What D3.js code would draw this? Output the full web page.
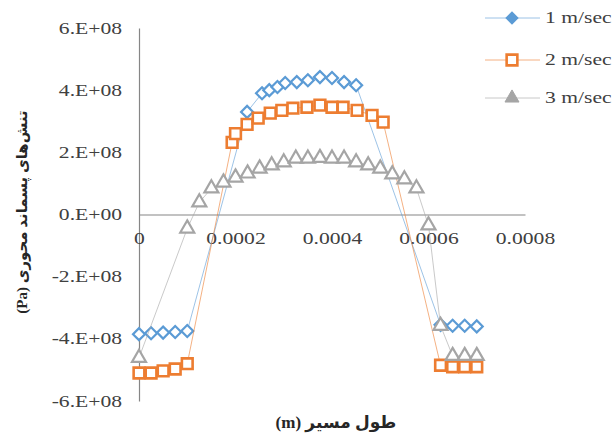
<!DOCTYPE html>
<html>
<head>
<meta charset="utf-8">
<script src="https://cdn.jsdelivr.net/npm/d3@7"></script>
<style>
  body { margin: 0; background: #fff; }
  svg { display: block; }
</style>
</head>
<body>
<svg id="chart" width="614" height="437"></svg>
<script>
// tick labels
const xTicks = [0, 0.0002, 0.0004, 0.0006, 0.0008];
const xTickLabels = ["0", "0.0002", "0.0004", "0.0006", "0.0008"];
const yTicks = [-6e8, -4e8, -2e8, 0, 2e8, 4e8, 6e8];
const yTickLabels = ["-6.E+08", "-4.E+08", "-2.E+08", "0.E+00", "2.E+08", "4.E+08", "6.E+08"];

const seriesNames = ["1 m/sec", "2 m/sec", "3 m/sec"];

// 1 m/sec  (x in 1e-4 m, stress in 1e8 Pa)
const x1 = [0, 0.25, 0.5, 0.75, 1.0, 2.24, 2.55, 2.7, 2.87, 3.03, 3.27, 3.5, 3.75, 4.0, 4.25, 4.5, 6.25, 6.5, 6.75, 7.0];
const y1 = [-3.85, -3.82, -3.8, -3.78, -3.75, 3.3, 3.9, 4.0, 4.1, 4.23, 4.26, 4.32, 4.42, 4.39, 4.26, 4.16, -3.55, -3.58, -3.58, -3.6];

// 2 m/sec
const x2 = [0, 0.25, 0.5, 0.75, 1.0, 1.93, 2.0, 2.24, 2.47, 2.72, 2.96, 3.19, 3.48, 3.75, 4.0, 4.23, 4.52, 4.83, 5.06, 6.25, 6.5, 6.75, 7.0];
const y2 = [-5.1, -5.1, -5.03, -4.97, -4.8, 2.32, 2.6, 2.9, 3.1, 3.26, 3.35, 3.42, 3.45, 3.52, 3.45, 3.45, 3.35, 3.19, 2.97, -4.85, -4.9, -4.9, -4.9];

// 3 m/sec
const x3 = [0, 1.0, 1.25, 1.5, 1.75, 2.0, 2.25, 2.5, 2.75, 3.0, 3.25, 3.5, 3.75, 4.0, 4.25, 4.5, 4.75, 5.0, 5.25, 5.5, 5.75, 6.0, 6.25, 6.5, 6.75, 7.0];
const y3 = [-4.61, -0.45, 0.39, 0.84, 1.03, 1.19, 1.32, 1.48, 1.58, 1.68, 1.8, 1.8, 1.82, 1.8, 1.8, 1.68, 1.58, 1.48, 1.29, 1.13, 0.84, -0.35, -3.58, -4.55, -4.55, -4.55];

const colors = ["#5B9BD5", "#ED7D31", "#A5A5A5"];
const shapes = ["diamond", "square", "triangle"];

const svg = d3.select("#chart");
const stretch = 1.35; // the original labels are drawn wide

const x = d3.scaleLinear().domain([0, 0.0008]).range([139, 525]);
const y = d3.scaleLinear().domain([-6e8, 6e8]).range([401, 28]);

svg.append("rect").attr("width", 614).attr("height", 437).attr("fill", "#fff");

// y axis
const yAxis = svg.append("g")
    .attr("transform", "translate(" + x(0) + ",0)")
    .call(d3.axisLeft(y).tickValues(yTicks).tickSize(0)
        .tickFormat((d, i) => yTickLabels[i]));
yAxis.select(".domain").attr("stroke", "#868686").attr("stroke-width", 1.2);
yAxis.selectAll("text")
    .attr("x", -17 / stretch)
    .attr("transform", "scale(" + stretch + ",1)")
    .style("font-family", "Liberation Serif")
    .style("font-size", "16px")
    .attr("fill", "#404040");

// x axis on the zero line
const xAxis = svg.append("g")
    .attr("transform", "translate(0," + y(0) + ")")
    .call(d3.axisBottom(x).tickValues(xTicks).tickSize(0).tickPadding(18)
        .tickFormat((d, i) => xTickLabels[i]));
xAxis.select(".domain").attr("stroke", "#868686").attr("stroke-width", 1.2);
xAxis.selectAll("text")
    .attr("transform", "scale(" + stretch + ",1)")
    .style("font-family", "Liberation Serif")
    .style("font-size", "16px")
    .attr("fill", "#404040");

function markerPath(shape) {
    if (shape === "diamond") return d3.symbol().type(d3.symbolSquare).size(72)();
    if (shape === "square") return d3.symbol().type(d3.symbolSquare).size(115)();
    return d3.symbol().type(d3.symbolTriangle).size(85)();
}

const allSeries = [
    { xs: x1, ys: y1 },
    { xs: x2, ys: y2 },
    { xs: x3, ys: y3 }
];

const line = d3.line().x(d => x(d[0])).y(d => y(d[1]));

allSeries.forEach((s, k) => {
    const pts = s.xs.map((v, i) => [v * 1e-4, s.ys[i] * 1e8]);
    svg.append("path")
        .datum(pts)
        .attr("d", line)
        .attr("fill", "none")
        .attr("stroke", colors[k])
        .attr("stroke-opacity", 0.6)
        .attr("stroke-width", 1);

    svg.selectAll(".m" + k)
        .data(pts)
        .enter()
        .append("path")
        .attr("class", "m" + k)
        .attr("d", markerPath(shapes[k]))
        .attr("transform", d => "translate(" + x(d[0]) + "," + y(d[1]) + ")" + (shapes[k] === "diamond" ? " rotate(45)" : ""))
        .attr("fill", "#fff")
        .attr("stroke", colors[k])
        .attr("stroke-width", shapes[k] === "square" ? 2.6 : 2.2);
});

// legend
const legendY = [18, 60, 98];
seriesNames.forEach((name, k) => {
    const g = svg.append("g").attr("transform", "translate(0," + legendY[k] + ")");
    g.append("line")
        .attr("x1", 485).attr("x2", 540)
        .attr("stroke", colors[k]).attr("stroke-opacity", 0.6).attr("stroke-width", 1);
    g.append("path")
        .attr("d", markerPath(shapes[k]))
        .attr("transform", "translate(512,0)" + (shapes[k] === "diamond" ? " rotate(45)" : ""))
        .attr("fill", shapes[k] === "square" ? "#fff" : colors[k])
        .attr("stroke", colors[k])
        .attr("stroke-width", shapes[k] === "square" ? 2.6 : 1);
    g.append("text")
        .attr("transform", "translate(545,5) scale(" + stretch + ",1)")
        .style("font-family", "Liberation Serif")
        .style("font-size", "16px")
        .attr("fill", "#404040")
        .text(name);
});

// axis titles
svg.append("text")
    .attr("transform", "translate(27,212) rotate(-90)")
    .attr("text-anchor", "middle")
    .attr("direction", "rtl")
    .style("font-family", "Liberation Serif, DejaVu Sans")
    .style("font-weight", "bold")
    .style("font-size", "15px")
    .attr("fill", "#262626")
    .text("تنش‌های پسماند محوری (Pa)");

svg.append("text")
    .attr("x", 336).attr("y", 428)
    .attr("text-anchor", "middle")
    .attr("direction", "rtl")
    .style("font-family", "Liberation Serif, DejaVu Sans")
    .style("font-weight", "bold")
    .style("font-size", "17px")
    .attr("fill", "#262626")
    .text("طول مسیر (m)");
</script>
</body>
</html>
